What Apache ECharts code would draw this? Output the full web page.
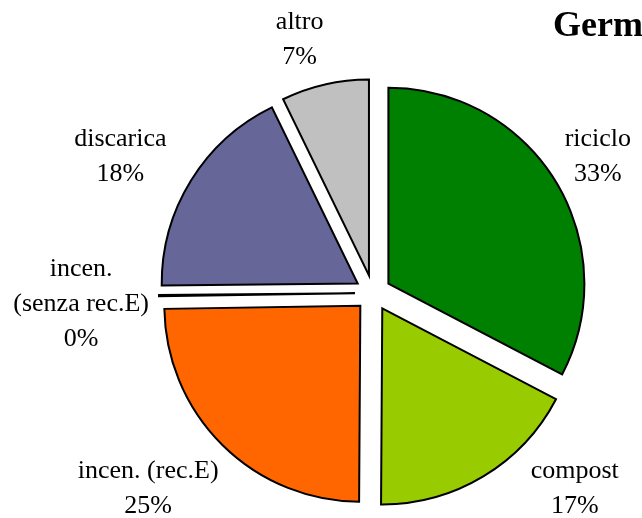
<!DOCTYPE html>
<html>
<head>
<meta charset="utf-8">
<script src="https://cdn.jsdelivr.net/npm/echarts@6/dist/echarts.min.js"></script>
<style>
html,body{margin:0;padding:0;background:#fff;}
#chart{width:642px;height:518px;}
</style>
</head>
<body>
<div id="chart"></div>
<script>
// ---- data ----
var categories = ['riciclo', 'compost', 'incen. (rec.E)', 'incen.\n(senza rec.E)', 'discarica', 'altro'];
var values = [32.6, 17.4, 24.6, 0.1, 17.9, 7.2];
var colors = ['#008000', '#99CC00', '#FF6600', '#FFFFFF', '#666699', '#C0C0C0'];
var titleText = 'Germania';

// ---- label placement (polar: angle clockwise from top in degrees, distance from pie centre) ----
var labelAngle = [58.4, 133.9, 229.2, 268.2, 298.7, 344];
var labelDist = [264, 280, 297, 292, 288, 266];

var cx = 373, cy = 293, R = 196;

var chart = echarts.init(document.getElementById('chart'), null, {renderer: 'canvas'});

var total = values.reduce(function (a, b) { return a + b; }, 0);

var data = categories.map(function (c, i) {
  return {name: c, value: values[i], selected: true, itemStyle: {color: colors[i]}};
});

var labels = categories.map(function (c, i) {
  var a = labelAngle[i] * Math.PI / 180;
  var d = labelDist[i];
  return {
    type: 'text',
    x: cx + d * Math.sin(a),
    y: cy - d * Math.cos(a) + 2,
    silent: true,
    style: {
      text: c + '\n' + Math.round(values[i] / total * 100) + '%',
      fontFamily: 'Liberation Serif',
      fontSize: 26,
      lineHeight: 35,
      fill: '#000',
      align: 'center',
      verticalAlign: 'middle'
    }
  };
});

chart.setOption({
  animation: false,
  backgroundColor: '#ffffff',
  title: {
    text: titleText,
    left: 553,
    top: 9,
    padding: 0,
    textStyle: {fontFamily: 'Liberation Serif', fontWeight: 'bold', fontSize: 36, lineHeight: 36, color: '#000'}
  },
  graphic: labels,
  series: [{
    type: 'pie',
    center: [cx, cy],
    radius: [0, R],
    startAngle: 90,
    clockwise: true,
    selectedMode: 'multiple',
    selectedOffset: 18,
    itemStyle: {borderColor: '#000', borderWidth: 2, borderJoin: 'miter'},
    emphasis: {disabled: true},
    label: {show: false},
    labelLine: {show: false},
    data: data
  }]
});
</script>
</body>
</html>
